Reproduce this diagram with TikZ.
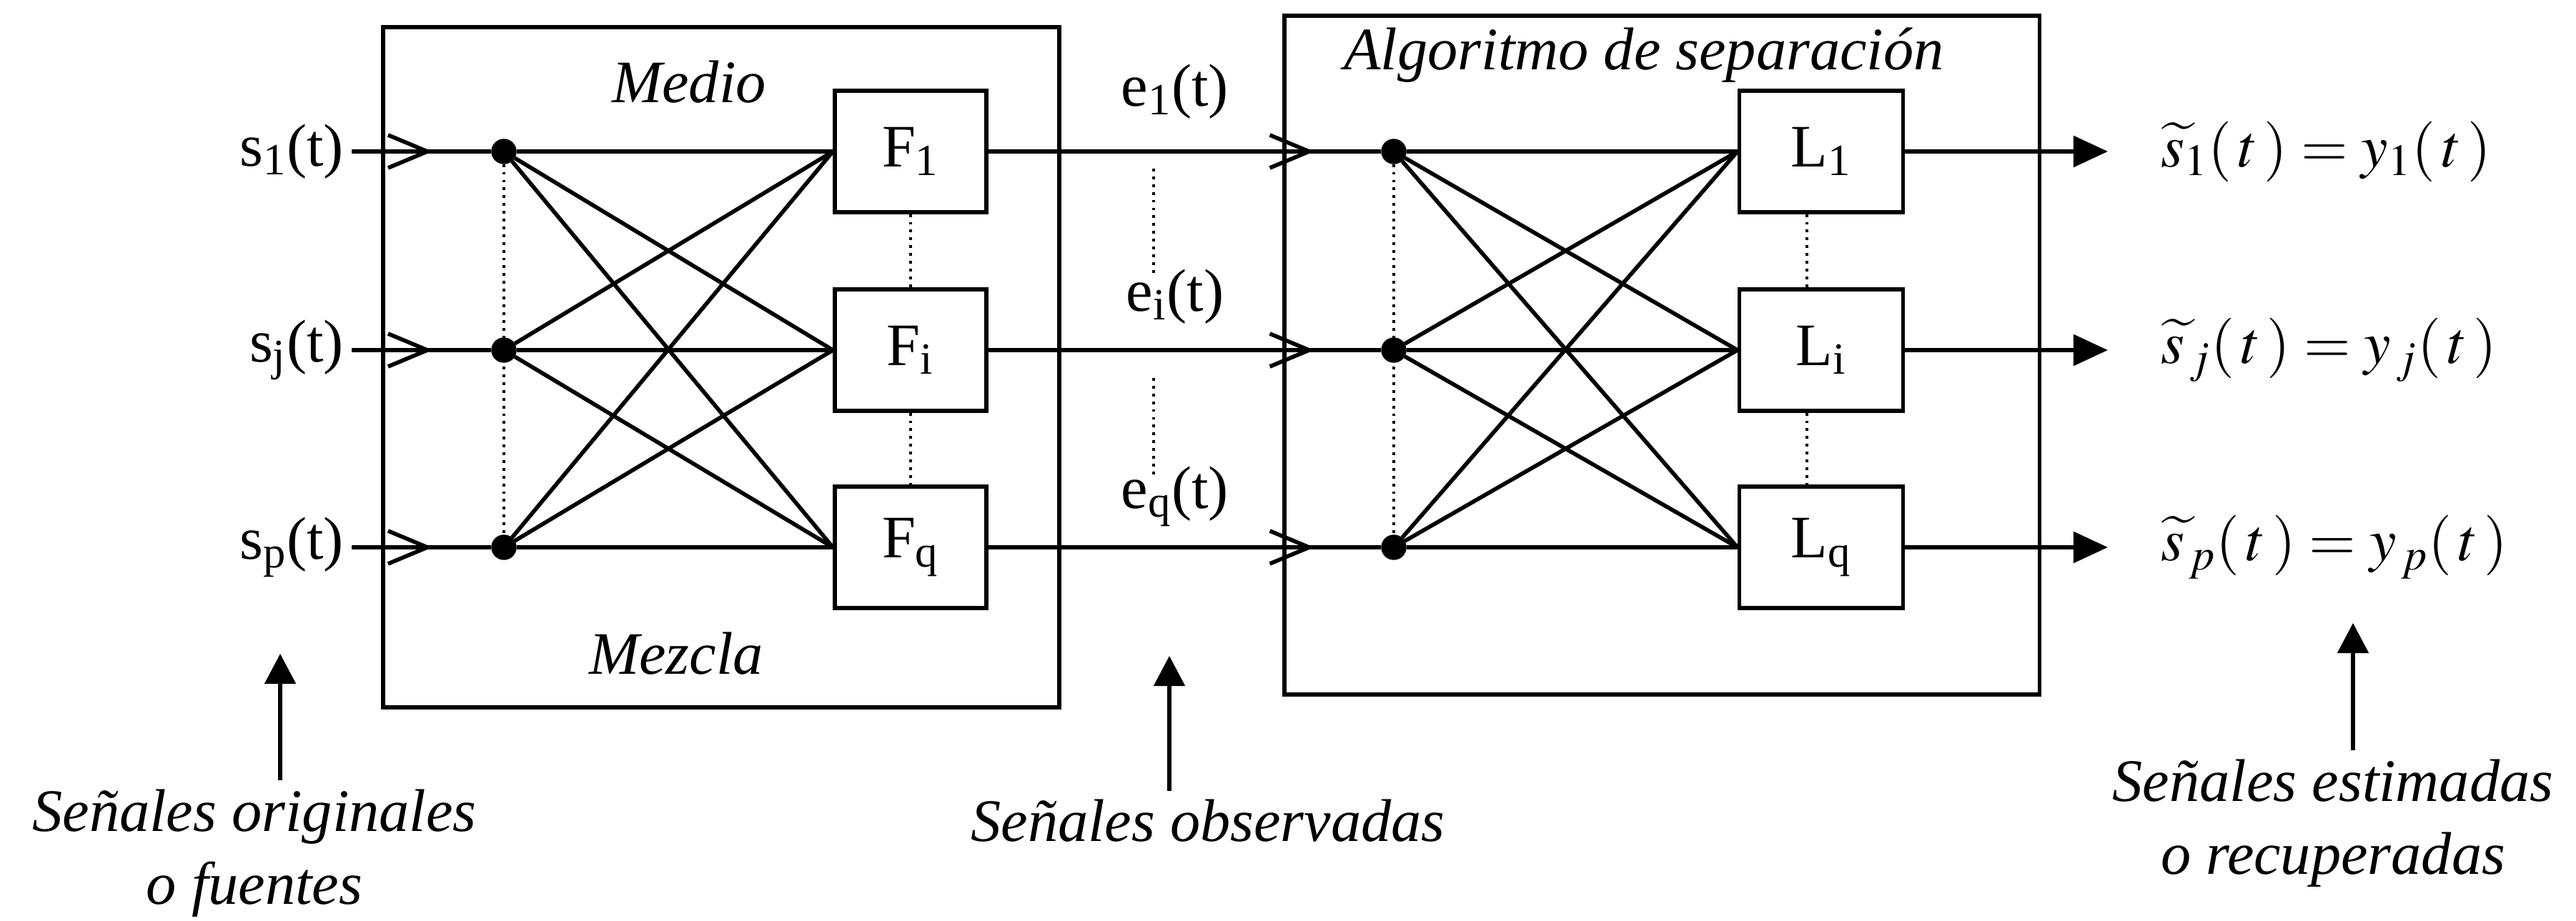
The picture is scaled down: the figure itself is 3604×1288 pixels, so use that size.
\documentclass[tikz,border=0pt]{standalone}
\usepackage{mathptmx}
\usepackage{fontspec}
\setmainfont{Liberation Serif}
\usetikzlibrary{arrows.meta,decorations.markings}

\begin{document}
\begin{tikzpicture}[x=0.01cm,y=-0.01cm]
  \tikzset{bigbox/.style={draw=black,line width=1.6pt,inner sep=0pt}}
  \tikzset{filterbox/.style={draw=black,line width=1.5pt,minimum height=1.7cm,inner sep=0pt,font=\fontsize{24}{29}\selectfont}}
  \tikzset{junction/.style={circle,fill=black,draw=black,inner sep=0pt,minimum size=0.34cm}}
  \tikzset{sigline/.style={draw=black,line width=1.6pt}}
  \tikzset{dotline/.style={draw=black,dotted,line width=1.1pt}}
  \tikzset{barbat/.style={postaction={decorate},decoration={markings,mark=at position #1 with {\arrow{Straight Barb[length=5.5mm,width=4.6mm]}}}}}
  \tikzset{siglabel/.style={font=\fontsize{24}{29}\selectfont,inner sep=3pt}}
  \tikzset{boxtitle/.style={font=\fontsize{24}{29}\selectfont\itshape}}
  \tikzset{note/.style={font=\fontsize{24}{29}\selectfont\itshape,align=center}}
  \tikzset{pointer/.style={draw=black,line width=1.5pt,-{Triangle[length=4.2mm,width=4.3mm]}}}

  \useasboundingbox (0,0) rectangle (3604,1288);

  % outer blocks
  \node[bigbox,minimum width=9.46cm,minimum height=9.52cm] (mix) at (1009,514) {};
  \node[bigbox,minimum width=10.56cm,minimum height=9.50cm] (sep) at (2325,497) {};
  \node[boxtitle] (medio) at (964,115) {Medio};
  \node[boxtitle] (mezcla) at (946,915) {Mezcla};
  \node[boxtitle] (algo) at (2300,77) {Algoritmo de separación};

  % sources
  \node[siglabel,anchor=east] (s1) at (492,212) {s\textsubscript{1}(t)};
  \node[siglabel,anchor=east] (s2) at (492,490) {s\textsubscript{j}(t)};
  \node[siglabel,anchor=east] (s3) at (492,766) {s\textsubscript{p}(t)};

  \node[junction] (d1) at (705,212) {};
  \node[junction] (d2) at (705,490) {};
  \node[junction] (d3) at (705,766) {};

  \node[filterbox,minimum width=2.12cm] (f1) at (1274,212) {F\textsubscript{1}};
  \node[filterbox,minimum width=2.12cm] (f2) at (1274,490) {F\textsubscript{i}};
  \node[filterbox,minimum width=2.12cm] (f3) at (1274,766) {F\textsubscript{q}};

  % observed signals
  \node[junction] (e1d) at (1950,212) {};
  \node[junction] (e2d) at (1950,490) {};
  \node[junction] (e3d) at (1950,766) {};

  \node[siglabel] (e1) at (1644,128) {e\textsubscript{1}(t)};
  \node[siglabel] (e2) at (1644,415) {e\textsubscript{i}(t)};
  \node[siglabel] (e3) at (1644,695) {e\textsubscript{q}(t)};

  \node[filterbox,minimum width=2.29cm] (l1) at (2548,212) {L\textsubscript{1}};
  \node[filterbox,minimum width=2.29cm] (l2) at (2548,490) {L\textsubscript{i}};
  \node[filterbox,minimum width=2.29cm] (l3) at (2548,766) {L\textsubscript{q}};

  % estimates
  \node[siglabel,anchor=west] (y1) at (3012,212) {$\widetilde{s}_1(\,t\,)=y_1(\,t\,)$};
  \node[siglabel,anchor=west] (y2) at (3012,490) {$\widetilde{s}_{\,j}(\,t\,)=y_{\,j}(\,t\,)$};
  \node[siglabel,anchor=west] (y3) at (3012,766) {$\widetilde{s}_{\,p}(\,t\,)=y_{\,p}(\,t\,)$};

  \foreach \r in {1,2,3} {
    \draw[sigline,barbat=0.58] (s\r.east) -- (d\r);
    \draw[sigline,barbat=0.83] (f\r.east) -- (e\r d);
    \draw[sigline,-{Triangle[length=4.8mm,width=4.3mm]},shorten >=0.63cm] (l\r.east) -- (y\r.west);
    \foreach \c in {1,2,3} {
      \draw[sigline] (d\r) -- (f\c.west);
      \draw[sigline] (e\r d) -- (l\c.west);
    }
  }

  % ellipsis marks
  \draw[dotline] (d1) -- (d3);
  \draw[dotline] (e1d) -- (e3d);
  \draw[dotline] (f1.south) -- (f2.north);
  \draw[dotline] (f2.south) -- (f3.north);
  \draw[dotline] ([xshift=-0.2cm]l1.south) -- ([xshift=-0.2cm]l2.north);
  \draw[dotline] ([xshift=-0.2cm]l2.south) -- ([xshift=-0.2cm]l3.north);
  \draw[dotline] (1614,236) -- (1614,383);
  \draw[dotline] (1614,529) -- (1614,670);

  % notes below
  \coordinate (srctip) at (392,915);
  \coordinate (obstip) at (1636,918);
  \coordinate (esttip) at (3292,872);
  \node[note] (srcnote) at (356,1194) {Señales originales\\o fuentes};
  \node[note] (obsnote) at (1690,1149) {Señales observadas};
  \node[note] (estnote) at (3264,1152) {Señales estimadas\\o recuperadas};
  \draw[pointer] (srcnote.north -| srctip) -- (srctip);
  \draw[pointer] (obsnote.north -| obstip) -- (obstip);
  \draw[pointer] (estnote.north -| esttip) -- (esttip);
\end{tikzpicture}
\end{document}
